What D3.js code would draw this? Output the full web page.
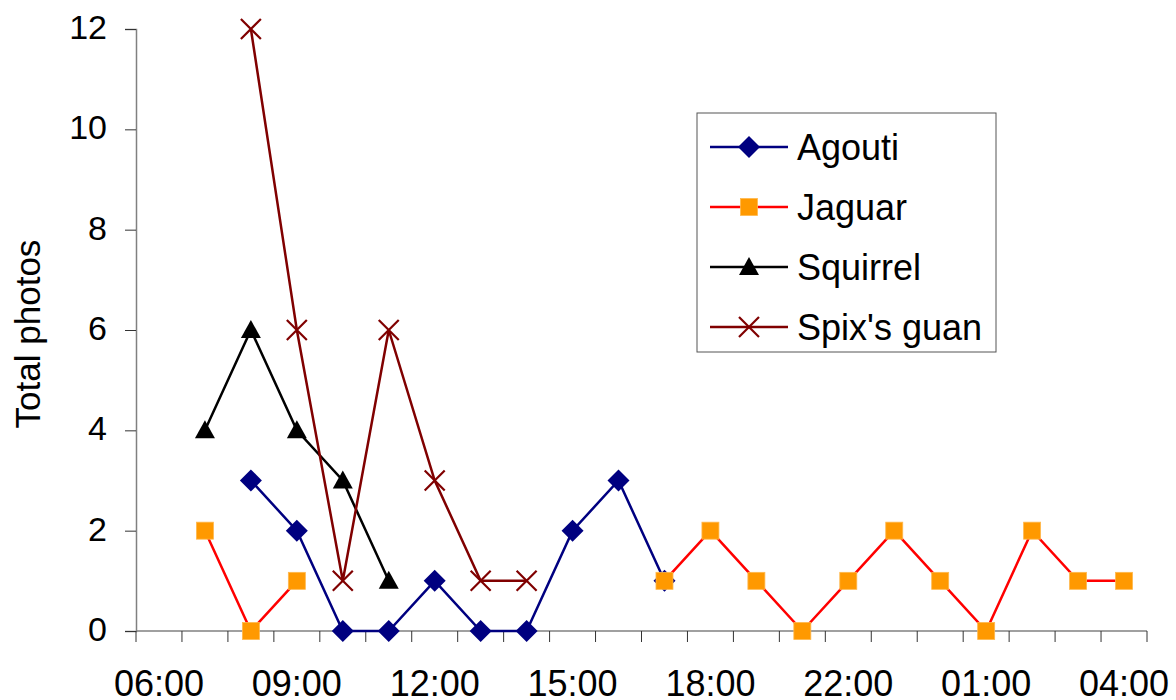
<!DOCTYPE html>
<html>
<head>
<meta charset="utf-8">
<script src="https://cdn.jsdelivr.net/npm/d3@7"></script>
<style>
  html, body { margin: 0; padding: 0; background: #fff; }
  svg { display: block; font-family: "Liberation Sans", Arial, sans-serif; }
</style>
</head>
<body>
<svg id="chart"></svg>
<script>
// categories (hours) - every third one is labelled on the axis
const hours = ["06:00", "07:00", "08:00", "09:00", "10:00", "11:00", "12:00", "13:00",
               "14:00", "15:00", "16:00", "17:00", "18:00", "19:00", "20:00", "22:00",
               "23:00", "00:00", "01:00", "02:00", "03:00", "04:00"];
const yTicks = [0, 2, 4, 6, 8, 10, 12];

// photo counts per hour (null = no point)
const agouti   = [null, null, 3, 2, 0, 0, 1, 0, 0, 2, 3, 1, null, null, null, null, null, null, null, null, null, null];
const jaguar   = [null, 2, 0, 1, null, null, null, null, null, null, null, 1, 2, 1, 0, 1, 2, 1, 0, 2, 1, 1];
const squirrel = [null, 4, 6, 4, 3, 1, null, null, null, null, null, null, null, null, null, null, null, null, null, null, null, null];
const spixGuan = [null, null, 12, 6, 1, 6, 3, 1, 1, null, null, null, null, null, null, null, null, null, null, null, null, null];

const seriesNames = ["Agouti", "Jaguar", "Squirrel", "Spix's guan"];

const width = 1176, height = 700;
const svg = d3.select("#chart").attr("width", width).attr("height", height);

const x = d3.scaleBand().domain(hours).range([136, 1147]).padding(0);
const y = d3.scaleLinear().domain([0, 12]).range([631, 29]);
const cx = h => x(h) + x.bandwidth() / 2;

const series = [
    { name: seriesNames[0], values: agouti,   line: "#000080", fill: "#000080", marker: "diamond" },
    { name: seriesNames[1], values: jaguar,   line: "#ff0000", fill: "#ff9900", marker: "square" },
    { name: seriesNames[2], values: squirrel, line: "#000000", fill: "#000000", marker: "triangle" },
    { name: seriesNames[3], values: spixGuan, line: "#800000", fill: "#800000", marker: "cross" }
];

// y axis
const yAxis = svg.append("g")
    .attr("transform", "translate(136,0)")
    .call(d3.axisLeft(y).tickValues(yTicks).tickSize(11).tickPadding(18));
yAxis.select(".domain").attr("stroke", "#808080").attr("stroke-width", 1.5);
yAxis.selectAll(".tick line").attr("stroke", "#333");
yAxis.selectAll(".tick text")
    .attr("font-size", 34)
    .attr("fill", "#000")
    .attr("font-family", "Liberation Sans, Arial, sans-serif")
    .attr("dy", "0.28em");

// x axis: line + tick marks between categories, labels every 3rd category
const xAxis = svg.append("g").attr("transform", "translate(0,631)");
xAxis.append("line")
    .attr("x1", x.range()[0]).attr("x2", x.range()[1])
    .attr("stroke", "#808080").attr("stroke-width", 1.5);
const boundaries = hours.map(h => x(h)).concat([x.range()[1]]);
xAxis.selectAll(".xtick")
    .data(boundaries)
    .join("line")
    .attr("class", "xtick")
    .attr("x1", d => d).attr("x2", d => d)
    .attr("y1", 0).attr("y2", 11)
    .attr("stroke", "#333");
xAxis.selectAll(".xlabel")
    .data(hours.filter((h, i) => i % 3 === 0))
    .join("text")
    .attr("class", "xlabel")
    .attr("x", d => cx(d))
    .attr("y", 65)
    .attr("text-anchor", "middle")
    .attr("font-size", 36)
    .text(d => d);

// y title
svg.append("text")
    .attr("transform", "translate(40,334) rotate(-90)")
    .attr("text-anchor", "middle")
    .attr("font-size", 35)
    .text("Total photos");

function drawMarker(g, type, fill) {
    if (type === "diamond") {
        g.append("path").attr("d", "M0,-11L11,0L0,11L-11,0Z").attr("fill", fill);
    } else if (type === "square") {
        g.append("rect").attr("x", -8.5).attr("y", -8.5).attr("width", 17).attr("height", 17)
            .attr("fill", fill).attr("stroke", "#ffb84d").attr("stroke-width", 0.8);
    } else if (type === "triangle") {
        g.append("path").attr("d", "M0,-10L10,8L-10,8Z").attr("fill", fill);
    } else {
        g.append("path").attr("d", "M-10,-10L10,10M-10,10L10,-10")
            .attr("stroke", fill).attr("stroke-width", 2.2).attr("fill", "none");
    }
}

const line = d3.line()
    .defined(d => d.v != null)
    .x(d => cx(d.h))
    .y(d => y(d.v));

series.forEach(s => {
    const pts = hours.map((h, i) => ({ h: h, v: s.values[i] }));
    const g = svg.append("g");
    g.append("path")
        .attr("d", line(pts))
        .attr("fill", "none")
        .attr("stroke", s.line)
        .attr("stroke-width", 2.5);
    pts.filter(d => d.v != null).forEach(d => {
        const m = g.append("g").attr("transform", `translate(${cx(d.h)},${y(d.v)})`);
        drawMarker(m, s.marker, s.fill);
    });
});

// legend
const legend = svg.append("g").attr("transform", "translate(697,113)");
legend.append("rect")
    .attr("width", 299).attr("height", 239)
    .attr("fill", "#fff").attr("stroke", "#555").attr("stroke-width", 1);
series.forEach((s, i) => {
    const row = legend.append("g").attr("transform", `translate(0,${34 + i * 60})`);
    row.append("line").attr("x1", 13).attr("x2", 91)
        .attr("stroke", s.line).attr("stroke-width", 2.5);
    drawMarker(row.append("g").attr("transform", "translate(52,0)"), s.marker, s.fill);
    row.append("text")
        .attr("x", 100).attr("y", 0).attr("dy", "0.35em")
        .attr("font-size", 36)
        .text(s.name);
});
</script>
</body>
</html>
